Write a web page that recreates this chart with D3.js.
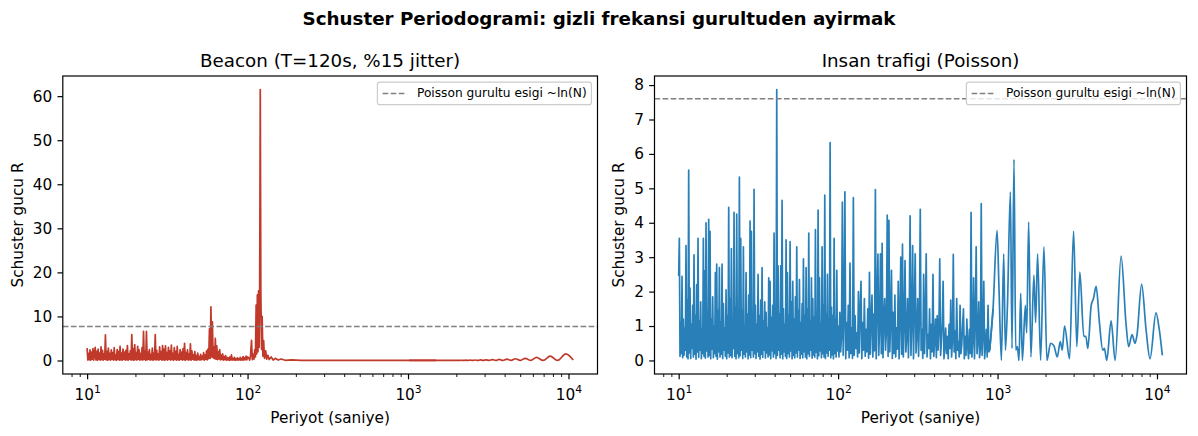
<!DOCTYPE html>
<html><head><meta charset="utf-8">
<script src="https://cdn.jsdelivr.net/npm/d3@7"></script>
<style>
body{margin:0;background:#fff;}
svg text{font-family:"DejaVu Sans",sans-serif;fill:#000;}
</style></head><body>
<svg id="c" width="1198" height="436"></svg>
<script>
// ---------------- DATA ----------------
const suptitle = "Schuster Periodogrami: gizli frekansi gurultuden ayirmak";
const beaconTitle = "Beacon (T=120s, %15 jitter)";
const humanTitle = "Insan trafigi (Poisson)";
const xLabel = "Periyot (saniye)";
const yLabel = "Schuster gucu R";
const legendLabel = "Poisson gurultu esigi ~ln(N)";

const xTickValues = [10, 100, 1000, 10000];
const xTickExponents = ["1", "2", "3", "4"];
const beaconYTicks = [0, 10, 20, 30, 40, 50, 60];
const humanYTicks = [0, 1, 2, 3, 4, 5, 6, 7, 8];

const beaconThreshold = 7.7;
const humanThreshold = 7.6;

// Beacon: dense band, periods 10 -> 100 (log-even samples)
const beaconBandRange = [10, 100];
const beaconBandValues = [
2.80,0.10,1.60,0.20,2.40,0.05,1.90,0.30,2.70,0.08,
1.40,3.00,0.15,2.10,0.05,2.60,0.25,1.70,0.10,3.10,
0.20,2.30,0.06,1.50,0.30,5.80,0.12,2.00,0.05,2.80,
0.22,1.60,0.08,2.40,0.30,1.80,0.10,2.90,0.18,1.30,
0.05,2.50,0.25,2.10,0.10,3.20,0.15,1.70,0.06,2.60,
0.28,1.90,0.08,2.30,0.20,3.40,0.05,1.50,0.30,2.20,
0.10,5.90,0.15,2.70,0.05,3.60,0.22,1.80,0.10,3.20,
0.28,2.40,0.06,1.60,0.18,2.90,0.10,6.60,0.25,2.10,
0.05,6.60,0.15,1.90,0.30,2.50,0.08,1.40,0.20,2.80,
0.05,1.70,0.25,5.90,0.10,2.30,0.18,1.50,0.06,3.10,
0.28,2.00,0.10,3.40,0.15,2.60,0.05,3.30,0.22,1.80,
0.08,3.00,0.30,2.20,0.10,3.50,0.18,1.60,0.05,2.90,
0.25,2.10,0.10,3.20,0.15,1.40,0.06,2.50,0.28,1.90,
0.10,2.70,0.20,3.90,0.05,1.80,0.25,2.40,0.10,1.50,
0.18,3.80,0.06,2.20,0.30,1.30,0.10,2.00,0.15,1.10,
0.05,1.70,0.22,0.90,0.10,1.40,0.18,1.00,0.25,1.80,
0.10,1.30,0.30,2.20,0.15,2.60,0.40,7.20,0.50,12.20,
0.80,8.80,0.60,3.10,0.40,5.00,0.30,3.30,0.20,2.00,
0.35,2.50,0.15,1.20,0.25,1.50,0.10,0.90,0.20,1.10,
0.08,0.70,0.15,0.60,0.05,0.80,0.12,1.30,0.06,0.50,
0.15,0.70,0.05,0.40,0.12,0.60,0.08,0.45,0.15,0.70,
0.06,0.50,0.12,0.90,0.10,0.60,0.20,1.00,0.15,0.80];

// Beacon: main peak region
const beaconPeakPeriods = [101.6,103.1,104.3,105.8,107.1,108.4,109.6,110.9,112.0,113.1,114.1,115.1,116.1,117.1,118.1,119.0,120.0,121.0,122.3,123.3,124.6,126.0,127.4,129.7,131.5,133.8,136.4,140.3,144.4,148.6,155.1,161.9,171.5,187,216,268,332,442,680,1016];
const beaconPeakValues  = [0.6,0.1,1.0,4.6,0.2,1.4,0.3,2.5,0.8,12.6,1.5,14.9,2.0,15.8,3.0,16.0,61.5,15.2,2.5,10.0,1.0,4.5,0.5,2.2,0.3,1.2,0.2,0.8,0.1,0.5,0.1,0.35,0.05,0.15,0.03,0.05,0.02,0.03,0.03,0.03];

// Beacon: long-period ripples
const beaconTailPeriods = [1500,1900,2024,2085,2146,2213,2283,2360,2439,2525,2618,2720,2825,2940,3067,3205,3356,3520,3704,3905,4132,4390,4673,5000,5376,5820,6329,6950,7692,8550,9615,10700];
const beaconTailValues  = [0.02,0.03,0.05,0.01,0.06,0.01,0.07,0.01,0.09,0.01,0.11,0.01,0.13,0.01,0.16,0.01,0.20,0.01,0.25,0.01,0.30,0.01,0.40,0.01,0.50,0.01,0.70,0.01,1.00,0.01,1.50,0.10];

// Human traffic: dense band 10 -> 100
const humanBand1Range = [10, 100];
const humanBand1Values = [
2.45,3.55,0.12,1.10,0.20,2.44,0.08,1.20,0.15,0.95,
0.30,3.34,0.10,1.75,0.05,5.53,0.22,2.10,0.06,1.05,
0.35,1.60,0.10,3.07,0.18,1.30,0.04,2.20,0.25,3.55,
0.09,1.15,0.30,1.70,0.05,0.90,0.20,3.55,0.12,2.60,
0.07,4.00,0.28,1.40,0.10,4.10,0.15,3.75,0.05,1.20,
0.33,1.85,0.08,1.00,0.20,2.55,0.12,2.80,0.04,1.45,
0.25,2.70,0.10,1.10,0.18,2.80,0.06,1.65,0.30,0.95,
0.12,2.05,0.05,1.30,0.22,4.45,0.10,1.80,0.15,3.25,
0.08,1.20,0.35,4.30,0.12,1.55,0.05,4.25,0.20,1.10,
0.08,5.33,0.14,3.55,0.30,1.45,0.06,3.30,0.18,1.00,
0.10,2.55,0.25,1.35,0.05,1.90,0.16,4.05,0.08,3.75,
0.30,1.20,0.10,4.97,0.20,1.60,0.06,1.05,0.25,2.50,
0.12,1.30,0.04,1.75,0.18,2.70,0.09,1.15,0.30,1.70,
0.07,1.40,0.22,0.95,0.10,2.40,0.16,2.30,0.05,1.25,
0.28,1.60,0.10,3.70,0.20,1.10,0.06,7.87,0.15,2.75,
0.30,1.35,0.08,2.75,0.18,4.65,0.05,1.50,0.25,1.05,
0.12,3.50,0.06,2.55,0.20,1.30,0.10,3.45,0.28,1.70,
0.05,2.30,0.15,1.20,0.08,1.85,0.22,3.30,0.10,1.45,
0.30,2.35,0.06,1.10,0.18,1.65,0.08,2.95,0.25,1.30,
0.10,2.70,0.05,1.50,0.20,3.70,0.12,1.15,0.30,2.40,
0.07,1.80,0.16,1.25,0.10,3.80,0.24,1.40,0.05,4.37,
0.14,2.40,0.28,1.05,0.08,3.30,0.20,1.60,0.10,4.80,
0.06,1.35,0.22,2.50,0.12,1.20,0.30,6.33,0.08,1.55,
0.16,1.30,0.05,3.55,0.20,1.20,0.10,2.62,0.28,1.00];

// Human traffic: dense band 100 -> 893
const humanBand2Range = [100, 893];
const humanBand2Values = [
0.90,0.10,1.40,0.25,0.70,4.60,0.15,1.20,4.90,0.05,
1.10,0.30,1.60,0.08,2.83,0.20,0.95,0.06,4.73,0.15,
1.30,0.35,0.80,0.10,2.00,0.22,1.45,2.30,0.05,1.10,
0.30,1.80,0.12,0.90,0.25,1.50,0.07,2.56,0.18,1.20,
1.90,0.10,1.35,0.28,4.96,0.05,1.60,3.09,0.15,1.00,
3.10,0.20,3.40,0.08,1.25,1.80,0.30,0.85,4.22,0.12,
4.07,0.25,1.15,2.62,0.06,1.40,0.20,1.90,0.10,0.95,
0.33,2.30,0.05,1.20,3.00,0.18,3.38,0.10,1.05,2.90,
0.25,0.70,1.80,0.08,1.30,4.20,0.15,1.10,3.34,0.05,
1.50,3.10,0.22,0.80,1.80,0.12,1.25,4.39,0.30,0.90,
0.06,2.50,0.20,1.15,3.10,0.10,0.75,0.35,1.50,0.05,
1.05,0.25,2.50,0.12,0.60,1.20,0.08,1.30,0.30,0.90,
2.95,0.15,0.55,1.10,2.30,0.05,0.40,0.94,0.20,0.70,
0.05,1.05,0.35,1.75,0.10,0.60,3.08,0.25,0.85,0.05,
1.80,0.30,0.55,0.10,1.60,0.20,0.45,1.05,1.50,0.05,
0.70,0.15,1.20,0.40,0.05,0.90,0.20,4.30,0.10,0.60,
2.40,0.05,1.10,3.30,0.20,0.55,1.70,0.08,0.35,4.56,
0.15,0.70,2.30,0.05,0.40,0.90,0.10,1.60,0.25,0.30];

// Human traffic: long periods
const humanTailPeriods = [937,993,1021,1057,1093,1120,1153,1204,1232,1268,1300,1332,1363,1397,1431,1494,1523,1567,1619,1690,1733,1783,1862,1954,2040,2152,2256,2370,2474,2545,2632,2829,2998,3143,3281,3476,3579,3683,3866,3996,4153,4355,4567,4679,4841,5155,5463,5954,6398,6643,6975,7285,7496,8011,8537,9045,9857,10335,10800];
const humanTailValues  = [1.5,3.78,2.09,0.0,3.1,0.3,1.56,4.9,0.35,5.84,0.3,0.4,0.0,1.95,0.0,1.6,0.8,4.02,0.1,2.48,1.1,3.1,0.0,3.3,0.0,0.5,0.43,0.1,0.55,0.3,1.0,0.05,3.76,0.4,2.57,0.7,0.7,0.35,1.6,1.8,2.15,1.1,0.3,0.35,0.0,1.15,0.0,3.03,1.05,0.4,0.75,0.5,0.75,2.22,0.9,0.05,1.38,0.9,0.15];

// ---------------- DRAWING ----------------
const svg = d3.select("#c");
const FS_TICK = 15.3, FS_TITLE = 18.3, FS_LEG = 12.2;

function logGrid(range, n) {
  const a = Math.log10(range[0]), b = Math.log10(range[1]);
  return d3.range(n).map(i => Math.pow(10, a + (b - a) * i / (n - 1)));
}
function zip(ps, vs) { return ps.map((p, i) => [p, vs[i]]); }

const beaconDense = zip(logGrid(beaconBandRange, beaconBandValues.length), beaconBandValues)
  .concat(zip(beaconPeakPeriods, beaconPeakValues));
const beaconTail = zip(beaconTailPeriods, beaconTailValues);
const humanDense = zip(logGrid(humanBand1Range, humanBand1Values.length), humanBand1Values)
  .concat(zip(logGrid(humanBand2Range, humanBand2Values.length), humanBand2Values).slice(1));
const humanTail = zip(humanTailPeriods, humanTailValues);

svg.append("text").attr("x", 599).attr("y", 25).attr("text-anchor", "middle")
  .style("font-size", FS_TITLE + "px").style("font-weight", "bold").text(suptitle);

function drawPanel(o) {
  const g = svg.append("g");
  const all = o.dense.concat(o.tail);
  const lp = all.map(d => Math.log10(d[0]));
  const lmin = d3.min(lp), lmax = d3.max(lp), lm = (lmax - lmin) * 0.05;
  const x = d3.scaleLog().domain([Math.pow(10, lmin - lm), Math.pow(10, lmax + lm)]).range([o.left, o.right]);
  const vmin = d3.min(all, d => d[1]), vmax = d3.max(all, d => d[1]), vm = (vmax - vmin) * 0.05;
  const y = d3.scaleLinear().domain([vmin - vm, vmax + vm]).range([o.bottom, o.top]);

  const lin = d3.line().x(d => x(d[0])).y(d => y(d[1]));
  const mono = d3.line().curve(d3.curveMonotoneX).x(d => x(d[0])).y(d => y(d[1]));
  g.append("path").attr("d", lin(o.dense.concat([o.tail[0]])))
    .attr("fill", "none").attr("stroke", o.color).attr("stroke-width", 1.7).attr("stroke-linejoin", "round");
  g.append("path").attr("d", mono([o.dense[o.dense.length - 1]].concat(o.tail)))
    .attr("fill", "none").attr("stroke", o.color).attr("stroke-width", 1.7).attr("stroke-linejoin", "round");

  g.append("line").attr("x1", o.left).attr("x2", o.right)
    .attr("y1", y(o.threshold)).attr("y2", y(o.threshold))
    .attr("stroke", "#808080").attr("stroke-width", 1.53).attr("stroke-dasharray", "5.65,2.44");

  // x axis major
  const gx = g.append("g").attr("transform", `translate(0,${o.bottom})`)
    .call(d3.axisBottom(x).tickValues(xTickValues).tickSize(5.3).tickSizeOuter(0).tickFormat(""));
  gx.select(".domain").remove();
  gx.selectAll(".tick line").attr("stroke", "#000").attr("stroke-width", 1.2);
  gx.selectAll(".tick text").each(function(d, i) {
    const t = d3.select(this).attr("y", 25.5).attr("dy", null)
      .style("font-size", FS_TICK + "px").attr("fill", "#000");
    t.append("tspan").text("10");
    t.append("tspan").attr("dy", -6.5).style("font-size", "10.7px").text(xTickExponents[i]);
  });
  // x axis minor
  const minor = x.ticks().filter(v => Math.abs(Math.log10(v) - Math.round(Math.log10(v))) > 1e-6);
  const gm = g.append("g").attr("transform", `translate(0,${o.bottom})`)
    .call(d3.axisBottom(x).tickValues(minor).tickSize(3).tickSizeOuter(0).tickFormat(""));
  gm.select(".domain").remove();
  gm.selectAll(".tick line").attr("stroke", "#000").attr("stroke-width", 0.9);

  // y axis
  const gy = g.append("g").attr("transform", `translate(${o.left},0)`)
    .call(d3.axisLeft(y).tickValues(o.yTicks).tickSize(5.3).tickPadding(5.3).tickSizeOuter(0));
  gy.select(".domain").remove();
  gy.selectAll(".tick line").attr("stroke", "#000").attr("stroke-width", 1.2);
  gy.selectAll(".tick text").style("font-size", FS_TICK + "px").attr("fill", "#000")
    .style("font-family", "'DejaVu Sans',sans-serif");
  gx.selectAll("text").style("font-family", "'DejaVu Sans',sans-serif");

  // frame
  g.append("rect").attr("x", o.left).attr("y", o.top)
    .attr("width", o.right - o.left).attr("height", o.bottom - o.top)
    .attr("fill", "none").attr("stroke", "#000").attr("stroke-width", 1.2);

  // titles and labels
  const cx = (o.left + o.right) / 2;
  g.append("text").attr("x", cx).attr("y", o.top - 9.5).attr("text-anchor", "middle")
    .style("font-size", FS_TITLE + "px").text(o.title);
  g.append("text").attr("x", cx).attr("y", 423).attr("text-anchor", "middle")
    .style("font-size", FS_TICK + "px").text(xLabel);
  g.append("text").attr("transform", `translate(${o.ylabelX},${(o.top + o.bottom) / 2}) rotate(-90)`)
    .attr("text-anchor", "middle").style("font-size", FS_TICK + "px").text(yLabel);

  // legend
  const lw = 214, lh = 22.6;
  const lx = o.right - 6.1 - lw, ly = o.top + 6.1;
  const lg = g.append("g");
  lg.append("rect").attr("x", lx).attr("y", ly).attr("width", lw).attr("height", lh).attr("rx", 2.5)
    .attr("fill", "#fff").attr("fill-opacity", 0.8).attr("stroke", "#cccccc").attr("stroke-width", 1.2);
  lg.append("line").attr("x1", lx + 5.2).attr("x2", lx + 29.6).attr("y1", ly + lh / 2).attr("y2", ly + lh / 2)
    .attr("stroke", "#808080").attr("stroke-width", 1.53).attr("stroke-dasharray", "5.65,2.44");
  lg.append("text").attr("x", lx + 39.6).attr("y", ly + lh / 2).attr("dominant-baseline", "central")
    .style("font-size", FS_LEG + "px").text(legendLabel);
}

drawPanel({left: 62.8, right: 597.5, top: 76, bottom: 374, title: beaconTitle,
  dense: beaconDense, tail: beaconTail, color: "#c0392b", threshold: beaconThreshold,
  yTicks: beaconYTicks, ylabelX: 23});
drawPanel({left: 654.5, right: 1186.5, top: 76, bottom: 374, title: humanTitle,
  dense: humanDense, tail: humanTail, color: "#2980b9", threshold: humanThreshold,
  yTicks: humanYTicks, ylabelX: 624});
</script>
</body></html>
